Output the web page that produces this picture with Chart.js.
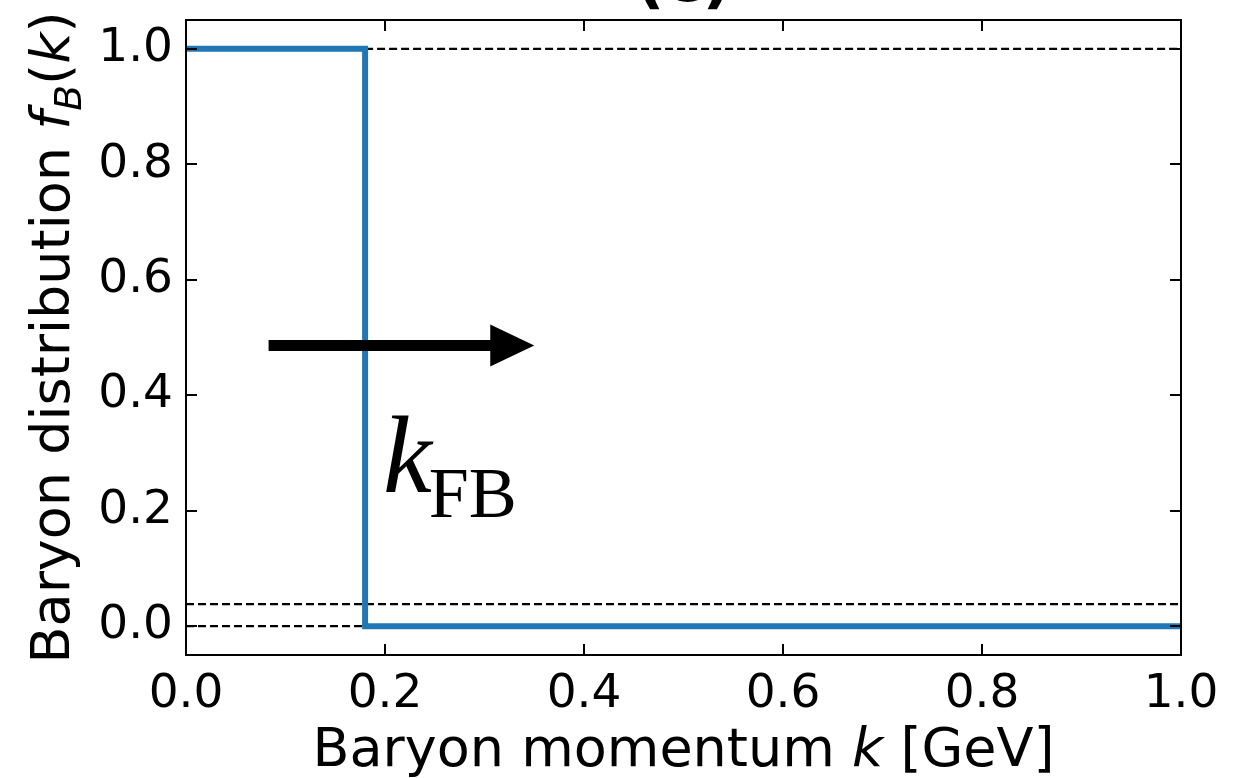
<!DOCTYPE html>
<html>
<head>
<meta charset="utf-8">
<script src="https://cdn.jsdelivr.net/npm/chart.js"></script>
<style>
  html, body { margin: 0; padding: 0; background: #fff; }
  #wrap { width: 1242px; height: 778px; position: relative; }
</style>
</head>
<body>
<div id="wrap"><canvas id="chart"></canvas></div>
<script>
// step distribution
const stepK = [0, 0.18, 0.18, 1.0];
const stepF = [1, 1, 0, 0];

// dashed guide lines
const upperK = [0.18, 1.0];
const upperF = [1, 1];
const lowerK = [0, 0.18];
const lowerF = [0, 0];
const offsetK = [0, 1.0];
const offsetF = [0.038, 0.038];

const xTicks = [0, 0.2, 0.4, 0.6, 0.8, 1.0];
const yTicks = [0, 0.2, 0.4, 0.6, 0.8, 1.0];

// annotation (data coords)
const arrowFrom = [0.083, 0.486];
const arrowTo = [0.35, 0.486];
const labelAt = [0.2, 0.232];

const titleText = '(c)';
const xTitleParts = [['Baryon momentum ', ''], ['k', 'italic'], [' [GeV]', '']];
const yTitleParts = [['Baryon distribution ', ''], ['f', 'italic'], ['B', 'italic sub'], ['(', ''], ['k', 'italic'], [')', '']];

const FONT = '"DejaVu Sans", sans-serif';
const BLUE = '#1f77b4';

const toPts = (xs, ys) => xs.map((x, i) => ({ x: x, y: ys[i] }));

const dashed = (data) => ({
  data: data,
  borderColor: '#000',
  borderWidth: 2.2,
  borderDash: [8, 4],
  pointRadius: 0,
  showLine: true,
  fill: false
});

// draws a run of mixed-style text starting at (0,0) going right
function drawParts(ctx, parts, size) {
  let x = 0;
  parts.forEach(([txt, style]) => {
    const sub = style.includes('sub');
    const fs = sub ? size * 0.7 : size;
    ctx.font = (style.includes('italic') ? 'italic ' : '') + fs + 'px ' + FONT;
    ctx.fillText(txt, x, sub ? size * 0.22 : 0);
    x += ctx.measureText(txt).width;
  });
  return x;
}
function partsWidth(ctx, parts, size) {
  let w = 0;
  parts.forEach(([txt, style]) => {
    const fs = style.includes('sub') ? size * 0.7 : size;
    ctx.font = (style.includes('italic') ? 'italic ' : '') + fs + 'px ' + FONT;
    w += ctx.measureText(txt).width;
  });
  return w;
}

const decor = {
  id: 'decor',
  afterDraw(chart) {
    const { ctx, chartArea: a, scales: { x, y } } = chart;
    ctx.save();

    // frame
    ctx.strokeStyle = '#000';
    ctx.lineWidth = 2;
    ctx.strokeRect(a.left, a.top, a.right - a.left, a.bottom - a.top);

    // inward ticks on all sides
    const tl = 11;
    ctx.beginPath();
    xTicks.forEach(v => {
      const px = Math.round(x.getPixelForValue(v));
      ctx.moveTo(px, a.bottom); ctx.lineTo(px, a.bottom - tl);
      ctx.moveTo(px, a.top); ctx.lineTo(px, a.top + tl);
    });
    yTicks.forEach(v => {
      const py = Math.round(y.getPixelForValue(v));
      ctx.moveTo(a.left, py); ctx.lineTo(a.left + tl, py);
      ctx.moveTo(a.right, py); ctx.lineTo(a.right - tl, py);
    });
    ctx.stroke();

    // arrow
    const x0 = x.getPixelForValue(arrowFrom[0]);
    const x1 = x.getPixelForValue(arrowTo[0]);
    const ay = y.getPixelForValue(arrowFrom[1]);
    const head = 44, hw = 21, sw = 5.5;
    ctx.fillStyle = '#000';
    ctx.beginPath();
    ctx.moveTo(x0, ay - sw);
    ctx.lineTo(x1 - head, ay - sw);
    ctx.lineTo(x1 - head, ay - hw);
    ctx.lineTo(x1, ay);
    ctx.lineTo(x1 - head, ay + hw);
    ctx.lineTo(x1 - head, ay + sw);
    ctx.lineTo(x0, ay + sw);
    ctx.closePath();
    ctx.fill();

    // k_FB label
    const lx = x.getPixelForValue(labelAt[0]);
    const ly = y.getPixelForValue(labelAt[1]);
    ctx.textAlign = 'left';
    ctx.textBaseline = 'alphabetic';
    ctx.font = 'italic 110px "Liberation Serif", serif';
    ctx.fillText('k', lx - 2, ly);
    const kw = ctx.measureText('k').width;
    ctx.font = '72px "Liberation Serif", serif';
    ctx.fillText('FB', lx - 2 + kw - 3, ly + 25);

    // axis titles
    const fs = 54;
    ctx.textBaseline = 'alphabetic';
    const xw = partsWidth(ctx, xTitleParts, fs);
    ctx.save();
    ctx.translate((a.left + a.right) / 2 - xw / 2, 766);
    drawParts(ctx, xTitleParts, fs);
    ctx.restore();

    const yw = partsWidth(ctx, yTitleParts, fs);
    ctx.save();
    ctx.translate(69, (a.top + a.bottom) / 2 + yw / 2);
    ctx.rotate(-Math.PI / 2);
    drawParts(ctx, yTitleParts, fs);
    ctx.restore();

    // clipped panel title
    ctx.font = 'bold 64px ' + FONT;
    ctx.textAlign = 'center';
    ctx.fillText(titleText, (a.left + a.right) / 2, 1);

    ctx.restore();
  }
};

new Chart(document.getElementById('chart'), {
  type: 'scatter',
  data: {
    datasets: [
      {
        data: toPts(stepK, stepF),
        borderColor: BLUE,
        borderWidth: 6,
        pointRadius: 0,
        showLine: true,
        fill: false
      },
      dashed(toPts(upperK, upperF)),
      dashed(toPts(lowerK, lowerF)),
      dashed(toPts(offsetK, offsetF))
    ]
  },
  options: {
    responsive: true,
    maintainAspectRatio: false,
    animation: false,
    layout: { padding: { top: 20, right: 61, left: 0, bottom: 0 } },
    plugins: {
      legend: { display: false },
      tooltip: { enabled: false },
      title: { display: false }
    },
    scales: {
      x: {
        type: 'linear',
        min: 0,
        max: 1,
        grid: { display: false, drawTicks: false },
        border: { display: false },
        afterBuildTicks: s => { s.ticks = xTicks.map(v => ({ value: v })); },
        afterFit: s => { s.height = 123; s.paddingLeft = 0; s.paddingRight = 0; },
        ticks: {
          color: '#000',
          padding: 12,
          maxRotation: 0,
          font: { family: FONT, size: 47 },
          callback: v => v.toFixed(1)
        }
      },
      y: {
        type: 'linear',
        min: -0.05,
        max: 1.05,
        grid: { display: false, drawTicks: false },
        border: { display: false },
        afterBuildTicks: s => { s.ticks = yTicks.map(v => ({ value: v })); },
        afterFit: s => { s.width = 186; s.paddingTop = 0; s.paddingBottom = 0; },
        ticks: {
          color: '#000',
          padding: 13,
          font: { family: FONT, size: 47 },
          callback: v => v.toFixed(1)
        }
      }
    }
  },
  plugins: [decor]
});
</script>
</body>
</html>
